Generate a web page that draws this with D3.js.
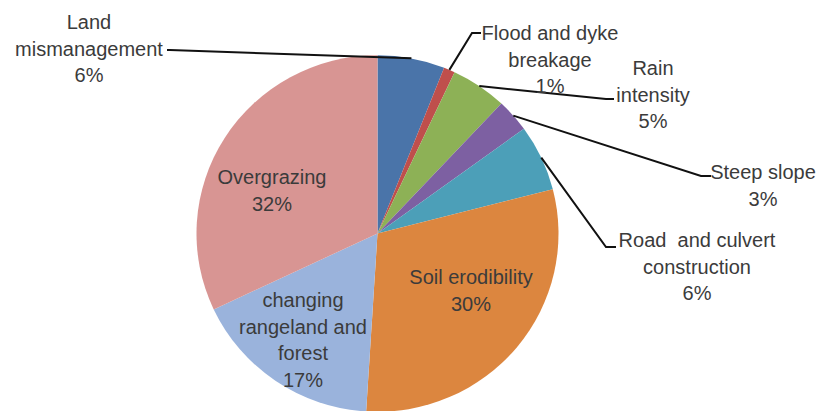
<!DOCTYPE html>
<html>
<head>
<meta charset="utf-8">
<script src="https://cdn.jsdelivr.net/npm/d3@7"></script>
<style>
  html, body { margin: 0; padding: 0; background: #ffffff; }
  svg { display: block; }
  text { font-family: "Liberation Sans", Arial, sans-serif; fill: #3b3b3b; }
</style>
</head>
<body>
<svg id="chart" width="829" height="411"></svg>
<script>
// Causes of land degradation (share, %)
const categories = [
  "Land mismanagement",
  "Flood and dyke breakage",
  "Rain intensity",
  "Steep slope",
  "Road  and culvert construction",
  "Soil erodibility",
  "changing rangeland and forest",
  "Overgrazing"
];
const values = [6, 1, 5, 3, 6, 30, 17, 32];
const labelLines = [
  ["Land", "mismanagement"],
  ["Flood and dyke", "breakage"],
  ["Rain", "intensity"],
  ["Steep slope"],
  ["Road  and culvert", "construction"],
  ["Soil erodibility"],
  ["changing", "rangeland and", "forest"],
  ["Overgrazing"]
];
const colors = ["#4A74A9", "#BF4F4C", "#8DB156", "#7D60A2", "#4C9FB8", "#DC863F", "#9AB3DC", "#D89593"];

// Label placement: outside labels get a leader line (bend point + stub end)
const layout = [
  { x: 89,  y: 22,  outside: true, bend: [170, 50],  stub: [167, 50] },
  { x: 550, y: 33,  outside: true, bend: [472, 33],  stub: [481, 33] },
  { x: 653, y: 68,  outside: true, bend: [606, 99],  stub: [614, 99] },
  { x: 763, y: 172, outside: true, bend: [701, 176], stub: [711, 176] },
  { x: 697, y: 240, outside: true, bend: [606, 247], stub: [616, 247] },
  { x: 471, y: 277, outside: false },
  { x: 303, y: 300, outside: false },
  { x: 272, y: 177, outside: false }
];

const svg = d3.select("#chart");
const cx = 377.5, cy = 233.5, r = 181, yScale = 0.985;
const lineH = 26.5;

const pie = d3.pie().sort(null).value(d => d);
const arcs = pie(values);
const arc = d3.arc().innerRadius(0).outerRadius(r);

const g = svg.append("g").attr("transform", `translate(${cx},${cy}) scale(1,${yScale})`);
g.selectAll("path")
  .data(arcs)
  .join("path")
  .attr("d", arc)
  .attr("fill", (d, i) => colors[i]);

// Leader lines from slice edge midpoint
const edgePoint = d => {
  const a = (d.startAngle + d.endAngle) / 2;
  return [cx + r * Math.sin(a), cy - r * Math.cos(a) * yScale];
};
arcs.forEach((d, i) => {
  const L = layout[i];
  if (!L.outside) return;
  const p = edgePoint(d);
  svg.append("polyline")
    .attr("points", [p, L.bend, L.stub].map(q => q.join(",")).join(" "))
    .attr("fill", "none")
    .attr("stroke", "#111")
    .attr("stroke-width", 2);
});

// Labels: name lines followed by the percentage
arcs.forEach((d, i) => {
  const L = layout[i];
  const lines = labelLines[i].concat([values[i] + "%"]);
  const t = svg.append("text")
    .attr("text-anchor", "middle")
    .attr("font-size", 20)
    .attr("xml:space", "preserve")
    .style("white-space", "pre");
  lines.forEach((s, k) => {
    t.append("tspan")
      .attr("x", L.x)
      .attr("y", L.y + k * lineH)
      .attr("dy", "0.35em")
      .text(s);
  });
});
</script>
</body>
</html>
